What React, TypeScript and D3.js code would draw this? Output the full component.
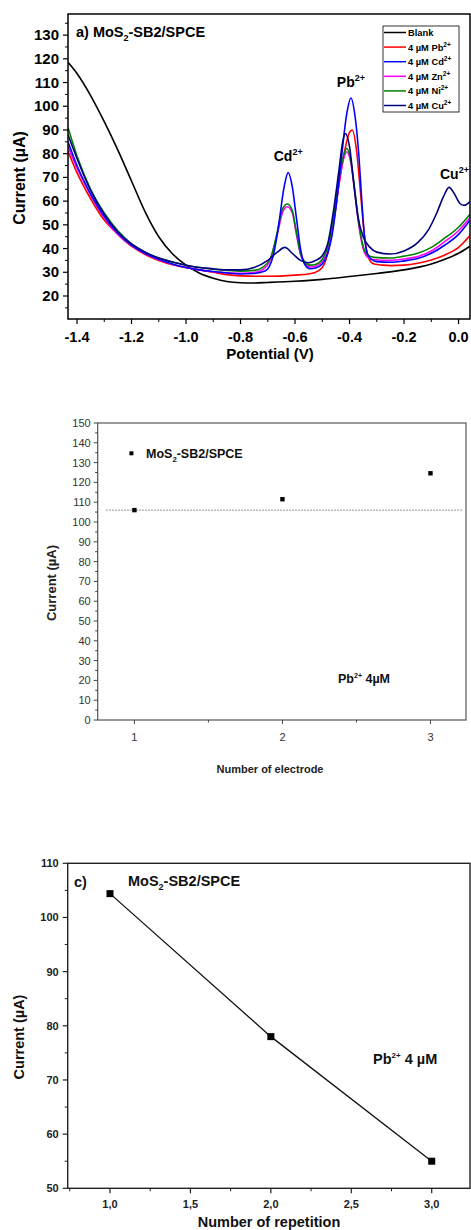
import React from "react";
import * as d3 from "d3";

// ---------- Panel a data (Potential V, Current µA) ----------
const blankCurve: [number, number][] = [
  [-1.433, 118.5], [-1.4, 113.8], [-1.35, 104.5], [-1.3, 93.5], [-1.25, 81.5], [-1.2, 68.5],
  [-1.15, 55.5], [-1.1, 45], [-1.05, 37.8], [-1.0, 33], [-0.95, 29.6], [-0.9, 27.5],
  [-0.85, 26.1], [-0.8, 25.6], [-0.75, 25.5], [-0.7, 25.7], [-0.6, 26.2], [-0.5, 27],
  [-0.4, 28.2], [-0.3, 29.5], [-0.2, 31], [-0.1, 33.5], [-0.05, 35.5], [0.0, 38], [0.042, 41],
];
const pbCurve: [number, number][] = [
  [-1.433, 81], [-1.4, 72], [-1.35, 61], [-1.3, 52], [-1.25, 46], [-1.2, 41], [-1.15, 37.5],
  [-1.1, 35], [-1.05, 33.2], [-1.0, 32], [-0.95, 31], [-0.9, 30], [-0.85, 29], [-0.8, 28.5],
  [-0.7, 28.3], [-0.6, 28.8], [-0.55, 29.3], [-0.53, 29.8], [-0.5, 32], [-0.48, 38], [-0.46, 50],
  [-0.44, 66], [-0.42, 80], [-0.4, 89], [-0.39, 90], [-0.375, 82], [-0.36, 64], [-0.345, 45],
  [-0.33, 36], [-0.31, 33.5], [-0.28, 33], [-0.25, 32.8], [-0.2, 33], [-0.15, 33.8],
  [-0.1, 35.2], [-0.05, 37.3], [0.0, 40.5], [0.042, 45.5],
];
const cdCurve: [number, number][] = [
  [-1.433, 85], [-1.4, 75], [-1.35, 63], [-1.3, 53.5], [-1.25, 46.5], [-1.2, 41.5], [-1.15, 38],
  [-1.1, 35.5], [-1.05, 33.5], [-1.0, 32], [-0.95, 31], [-0.9, 30.3], [-0.85, 29.7], [-0.8, 29.3],
  [-0.75, 29.5], [-0.71, 30.5], [-0.68, 37], [-0.66, 50], [-0.64, 66], [-0.625, 72], [-0.61, 66],
  [-0.595, 53], [-0.58, 40], [-0.565, 33.5], [-0.545, 31.5], [-0.525, 31.8], [-0.5, 33.5],
  [-0.48, 38], [-0.465, 45], [-0.45, 57], [-0.43, 78], [-0.41, 97], [-0.395, 103.5],
  [-0.38, 96], [-0.365, 78], [-0.355, 60], [-0.345, 45], [-0.335, 38], [-0.32, 35.5],
  [-0.3, 34.5], [-0.25, 34.2], [-0.2, 34.8], [-0.15, 35.8], [-0.1, 38], [-0.05, 41.5],
  [0.0, 46], [0.042, 52],
];
const znCurve: [number, number][] = [
  [-1.433, 83], [-1.4, 74], [-1.35, 62.5], [-1.3, 53], [-1.25, 46], [-1.2, 41.3], [-1.15, 37.8],
  [-1.1, 35.3], [-1.05, 33.4], [-1.0, 32], [-0.95, 31], [-0.9, 30.2], [-0.85, 29.8], [-0.8, 29.6],
  [-0.75, 29.9], [-0.72, 31], [-0.69, 35.5], [-0.665, 46], [-0.645, 55.5], [-0.628, 57.6],
  [-0.61, 55], [-0.595, 46], [-0.58, 37.5], [-0.565, 33.8], [-0.545, 32.2], [-0.525, 32.5],
  [-0.5, 34.5], [-0.475, 41], [-0.455, 54], [-0.435, 70], [-0.42, 78.5], [-0.41, 80.8],
  [-0.395, 76], [-0.38, 63], [-0.365, 49], [-0.35, 40], [-0.335, 36.5], [-0.31, 35.3],
  [-0.25, 35], [-0.2, 35.6], [-0.15, 36.6], [-0.1, 39], [-0.05, 43], [0.0, 47.5], [0.042, 53],
];
const niCurve: [number, number][] = [
  [-1.433, 91], [-1.4, 79], [-1.35, 65], [-1.3, 55], [-1.25, 47.5], [-1.2, 42], [-1.15, 38.5],
  [-1.1, 36], [-1.05, 34.3], [-1.0, 33], [-0.95, 32], [-0.9, 31.3], [-0.85, 30.8], [-0.8, 30.5],
  [-0.75, 30.8], [-0.72, 32], [-0.69, 36], [-0.665, 47], [-0.645, 57], [-0.628, 58.8],
  [-0.61, 56], [-0.595, 47], [-0.58, 38], [-0.565, 34.5], [-0.545, 33], [-0.525, 33.3],
  [-0.5, 35.5], [-0.475, 43], [-0.455, 56], [-0.435, 72], [-0.42, 80], [-0.41, 82.2],
  [-0.395, 77], [-0.38, 64], [-0.365, 50], [-0.35, 41], [-0.335, 37.5], [-0.31, 36.3],
  [-0.25, 36], [-0.2, 36.8], [-0.15, 38], [-0.1, 40.5], [-0.05, 44.5], [0.0, 49], [0.042, 54.5],
];
const cuCurve: [number, number][] = [
  [-1.433, 88], [-1.4, 78], [-1.35, 64.5], [-1.3, 54.5], [-1.25, 47], [-1.2, 42], [-1.15, 38.5],
  [-1.1, 36], [-1.05, 34.3], [-1.0, 33], [-0.95, 32], [-0.9, 31.5], [-0.85, 31], [-0.8, 31],
  [-0.75, 32], [-0.7, 35], [-0.665, 38.5], [-0.637, 40.5], [-0.61, 38], [-0.58, 35], [-0.55, 34],
  [-0.525, 35], [-0.5, 37], [-0.48, 42], [-0.46, 55], [-0.44, 72], [-0.425, 85], [-0.416, 88.5],
  [-0.4, 83], [-0.385, 68], [-0.37, 54], [-0.35, 45], [-0.325, 40.5], [-0.3, 38.5], [-0.25, 37.7],
  [-0.2, 39], [-0.15, 42.5], [-0.11, 48], [-0.08, 55], [-0.055, 62], [-0.035, 65.8],
  [-0.015, 63], [0.005, 59], [0.02, 58.2], [0.042, 59.8],
];
const aSeriesNames = ["Blank", "4 µM Pb", "4 µM Cd", "4 µM Zn", "4 µM Ni", "4 µM  Cu"];
const aSeriesSup = ["", "2+", "2+", "2+", "2+", "2+"];
const aSeriesColors = ["#000000", "#ff0000", "#0000ff", "#ff00ff", "#008000", "#000080"];
const aSeriesData = [blankCurve, pbCurve, cdCurve, znCurve, niCurve, cuCurve];
const aDrawOrder = [0, 1, 3, 4, 2, 5];
const aXTicks = [-1.4, -1.2, -1.0, -0.8, -0.6, -0.4, -0.2, 0.0];
const aXMinor = [-1.3, -1.1, -0.9, -0.7, -0.5, -0.3, -0.1];
const aYTicks = [20, 30, 40, 50, 60, 70, 80, 90, 100, 110, 120, 130];
const aYMinor = [15, 25, 35, 45, 55, 65, 75, 85, 95, 105, 115, 125, 135];
const aPeakLabels = [
  { ion: "Cd", v: -0.625, i: 77 },
  { ion: "Pb", v: -0.395, i: 108 },
  { ion: "Cu", v: -0.015, i: 69.5 },
];

// ---------- Panel b data ----------
const bElectrodes = [1, 2, 3];
const bCurrents = [106, 111.5, 124.6];
const bMean = 106;
const bXTicks = [1, 2, 3];
const bXMinor = [1.5, 2.5];
const bYTicks = [0, 10, 20, 30, 40, 50, 60, 70, 80, 90, 100, 110, 120, 130, 140, 150];
const bYMinor = [5, 15, 25, 35, 45, 55, 65, 75, 85, 95, 105, 115, 125, 135, 145];

// ---------- Panel c data ----------
const cRepetitions = [1.0, 2.0, 3.0];
const cCurrents = [104.4, 78.0, 55.0];
const cXTicks = [1.0, 1.5, 2.0, 2.5, 3.0];
const cXMinor = [0.75, 1.25, 1.75, 2.25, 2.75, 3.25];
const cYTicks = [50, 60, 70, 80, 90, 100, 110];
const cYMinor = [55, 65, 75, 85, 95, 105];

const FONT = "'Liberation Sans', Arial, sans-serif";

function Sup({ base, sup, tail, size, supSize, x, y, anchor = "start", weight = "bold", fill = "#000" }: any) {
  const up = size * 0.42;
  return (
    <text x={x} y={y} fontSize={size} fontWeight={weight} fontFamily={FONT} textAnchor={anchor} fill={fill}>
      <tspan>{base}</tspan>
      {sup ? <tspan fontSize={supSize} dy={-up}>{sup}</tspan> : null}
      {tail ? <tspan dy={sup ? up : 0}>{tail}</tspan> : null}
    </text>
  );
}

function Title({ x, y, size, prefix = "", fill = "#000" }: any) {
  return (
    <text x={x} y={y} fontSize={size} fontWeight="bold" fontFamily={FONT} fill={fill}>
      <tspan>{prefix}MoS</tspan>
      <tspan fontSize={size * 0.62} dy={size * 0.28}>2</tspan>
      <tspan dy={-size * 0.28}>-SB2/SPCE</tspan>
    </text>
  );
}

export default function App() {
  // Panel a
  const xA = d3.scaleLinear().domain([-1.433, 0.042]).range([68, 470]);
  const yA = d3.scaleLinear().domain([10.3, 138.9]).range([319, 14]);
  const lineA = d3
    .line<[number, number]>()
    .x((d) => xA(d[0]))
    .y((d) => yA(d[1]))
    .curve(d3.curveMonotoneX);

  // Panel b
  const xB = d3.scaleLinear().domain([0.752, 3.24]).range([97.7, 466]);
  const yB = d3.scaleLinear().domain([0, 150]).range([720, 423]);

  // Panel c
  const xC = d3.scaleLinear().domain([0.737, 3.238]).range([67.7, 470]);
  const yC = d3.scaleLinear().domain([50, 110]).range([1188.3, 863.3]);
  const lineC = d3
    .line<number>()
    .x((_, k) => xC(cRepetitions[k]))
    .y((d) => yC(d));

  const aLeft = xA.range()[0], aRight = xA.range()[1];
  const aTop = yA.range()[1], aBottom = yA.range()[0];
  const bLeft = xB.range()[0], bRight = xB.range()[1];
  const bTop = yB.range()[1], bBottom = yB.range()[0];
  const cLeft = xC.range()[0], cRight = xC.range()[1];
  const cTop = yC.range()[1], cBottom = yC.range()[0];

  const legX = 383, legY = 26, legW = 76, legH = 86, legStep = 14.6;

  return (
    <svg width={471} height={1230} style={{ position: "absolute", left: 0, top: 0, background: "#fff" }}>
      <rect x={0} y={0} width={471} height={1230} fill="#fff" />
      {/* ================= Panel a ================= */}
      <defs>
        <clipPath id="clipA">
          <rect x={aLeft} y={aTop} width={aRight - aLeft} height={aBottom - aTop} />
        </clipPath>
      </defs>
      <g clipPath="url(#clipA)">
        {aDrawOrder.map((k) => (
          <path key={k} d={lineA(aSeriesData[k]) || ""} fill="none" stroke={aSeriesColors[k]} strokeWidth={1.6} />
        ))}
      </g>
      <rect x={aLeft} y={aTop} width={aRight - aLeft} height={aBottom - aTop} fill="none" stroke="#000" strokeWidth={1.5} />
      {aXTicks.map((t) => (
        <g key={"ax" + t}>
          <line x1={xA(t)} x2={xA(t)} y1={aBottom} y2={aBottom + 5} stroke="#000" strokeWidth={1.2} />
          <text x={xA(t)} y={aBottom + 23} fontSize={14.5} fontWeight="bold" fontFamily={FONT} textAnchor="middle">
            {t === 0 ? "0.0" : t.toFixed(1)}
          </text>
        </g>
      ))}
      {aXMinor.map((t) => (
        <line key={"axm" + t} x1={xA(t)} x2={xA(t)} y1={aBottom} y2={aBottom + 3} stroke="#000" strokeWidth={1} />
      ))}
      {aYTicks.map((t) => (
        <g key={"ay" + t}>
          <line x1={aLeft - 5} x2={aLeft} y1={yA(t)} y2={yA(t)} stroke="#000" strokeWidth={1.2} />
          <text x={aLeft - 9} y={yA(t) + 5} fontSize={15} fontWeight="bold" fontFamily={FONT} textAnchor="end">
            {t}
          </text>
        </g>
      ))}
      {aYMinor.map((t) => (
        <line key={"aym" + t} x1={aLeft - 3} x2={aLeft} y1={yA(t)} y2={yA(t)} stroke="#000" strokeWidth={1} />
      ))}
      <text x={270} y={359} fontSize={15} fontWeight="bold" fontFamily={FONT} textAnchor="middle">
        Potential (V)
      </text>
      <text transform={`translate(25,178) rotate(-90)`} fontSize={16} fontWeight="bold" fontFamily={FONT} textAnchor="middle">
        Current (µA)
      </text>
      <Title x={76} y={37} size={14.5} prefix="a) " />
      {aPeakLabels.map((p) => (
        <Sup key={p.ion} base={p.ion} sup="2+" size={14} supSize={9} x={xA(p.v)} y={yA(p.i)} anchor="middle" />
      ))}
      {/* legend */}
      <rect x={legX} y={legY} width={legW} height={legH} fill="#fff" stroke="#000" strokeWidth={0.8} />
      {aSeriesNames.map((n, k) => (
        <g key={"leg" + k}>
          <line x1={legX + 1} x2={legX + 23} y1={legY + 6.5 + k * legStep} y2={legY + 6.5 + k * legStep} stroke={aSeriesColors[k]} strokeWidth={1.5} />
          <Sup base={n} sup={aSeriesSup[k]} size={9.3} supSize={6.5} x={legX + 25} y={legY + 10 + k * legStep} />
        </g>
      ))}

      {/* ================= Panel b ================= */}
      <line x1={xB(0.81)} x2={xB(3.22)} y1={yB(bMean)} y2={yB(bMean)} stroke="#666" strokeWidth={0.9} strokeDasharray="1.5,1.5" />
      <rect x={bLeft} y={bTop} width={bRight - bLeft} height={bBottom - bTop} fill="none" stroke="#555" strokeWidth={1.2} />
      {bYTicks.map((t) => (
        <g key={"by" + t}>
          <line x1={bLeft - 4} x2={bLeft} y1={yB(t)} y2={yB(t)} stroke="#444" strokeWidth={1} />
          <text x={bLeft - 7} y={yB(t) + 4} fontSize={11} fontFamily={FONT} fill="#333" textAnchor="end">
            {t}
          </text>
        </g>
      ))}
      {bYMinor.map((t) => (
        <line key={"bym" + t} x1={bLeft - 2.5} x2={bLeft} y1={yB(t)} y2={yB(t)} stroke="#444" strokeWidth={1} />
      ))}
      {bXTicks.map((t) => (
        <g key={"bx" + t}>
          <line x1={xB(t)} x2={xB(t)} y1={bBottom} y2={bBottom + 4} stroke="#444" strokeWidth={1} />
          <text x={xB(t)} y={bBottom + 21} fontSize={11} fontFamily={FONT} fill="#333" textAnchor="middle">
            {t}
          </text>
        </g>
      ))}
      {bXMinor.map((t) => (
        <line key={"bxm" + t} x1={xB(t)} x2={xB(t)} y1={bBottom} y2={bBottom + 2.5} stroke="#444" strokeWidth={1} />
      ))}
      {bElectrodes.map((e, k) => (
        <rect key={"bp" + k} x={xB(e) - 2.2} y={yB(bCurrents[k]) - 2.2} width={4.4} height={4.4} fill="#000" />
      ))}
      <rect x={xB(0.98) - 2} y={yB(134.7) - 2} width={4} height={4} fill="#000" />
      <Title x={146} y={458} size={12.5} fill="#111" />
      <Sup base="Pb" sup="2+" tail=" 4µM" size={12.5} supSize={7} x={338} y={683} fill="#111" />
      <text transform={`translate(56,583) rotate(-90)`} fontSize={13} fontWeight="bold" fontFamily={FONT} textAnchor="middle" fill="#222">
        Current (µA)
      </text>
      <text x={270} y={773} fontSize={11} fontWeight="bold" fontFamily={FONT} textAnchor="middle" fill="#222">
        Number of electrode
      </text>

      {/* ================= Panel c ================= */}
      <path d={lineC(cCurrents) || ""} fill="none" stroke="#111" strokeWidth={1.3} />
      {cRepetitions.map((r, k) => (
        <rect key={"cp" + k} x={xC(r) - 3.5} y={yC(cCurrents[k]) - 3.5} width={7} height={7} fill="#000" />
      ))}
      <rect x={cLeft} y={cTop} width={cRight - cLeft} height={cBottom - cTop} fill="none" stroke="#222" strokeWidth={1.4} />
      {cYTicks.map((t) => (
        <g key={"cy" + t}>
          <line x1={cLeft - 5} x2={cLeft} y1={yC(t)} y2={yC(t)} stroke="#222" strokeWidth={1.2} />
          <text x={cLeft - 9} y={yC(t) + 4} fontSize={11} fontWeight="bold" fontFamily={FONT} fill="#222" textAnchor="end">
            {t}
          </text>
        </g>
      ))}
      {cYMinor.map((t) => (
        <line key={"cym" + t} x1={cLeft - 3} x2={cLeft} y1={yC(t)} y2={yC(t)} stroke="#222" strokeWidth={1} />
      ))}
      {cXTicks.map((t) => (
        <g key={"cx" + t}>
          <line x1={xC(t)} x2={xC(t)} y1={cBottom} y2={cBottom + 5} stroke="#222" strokeWidth={1.2} />
          <text x={xC(t)} y={cBottom + 20} fontSize={11} fontWeight="bold" fontFamily={FONT} fill="#222" textAnchor="middle">
            {t.toFixed(1).replace(".", ",")}
          </text>
        </g>
      ))}
      {cXMinor.map((t) => (
        <line key={"cxm" + t} x1={xC(t)} x2={xC(t)} y1={cBottom} y2={cBottom + 3} stroke="#222" strokeWidth={1} />
      ))}
      <text x={74} y={887} fontSize={14.5} fontWeight="bold" fontFamily={FONT} fill="#111">
        c)
      </text>
      <Title x={128} y={886} size={14.5} fill="#111" />
      <Sup base="Pb" sup="2+" tail=" 4 µM" size={14.5} supSize={8} x={373} y={1064} fill="#111" />
      <text transform={`translate(24,1037) rotate(-90)`} fontSize={14.5} fontWeight="bold" fontFamily={FONT} textAnchor="middle" fill="#111">
        Current (µA)
      </text>
      <text x={269} y={1227} fontSize={14.5} fontWeight="bold" fontFamily={FONT} textAnchor="middle" fill="#111">
        Number of repetition
      </text>
    </svg>
  );
}
